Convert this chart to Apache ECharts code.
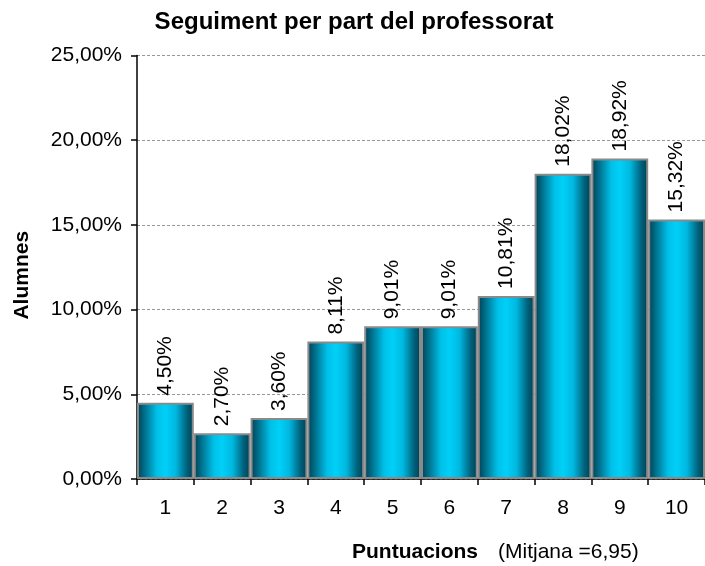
<!DOCTYPE html>
<html><head><meta charset="utf-8">
<script src="https://cdn.jsdelivr.net/npm/echarts@6/dist/echarts.min.js"></script>
<style>html,body{margin:0;padding:0;background:#fff}#c{width:705px;height:566px}</style>
</head><body><div id="c"></div>
<script>
var categories = ['1','2','3','4','5','6','7','8','9','10'];
var values = [4.50, 2.70, 3.60, 8.11, 9.01, 9.01, 10.81, 18.02, 18.92, 15.32];
var yTicks = [0, 5, 10, 15, 20, 25];
var titleText = 'Seguiment per part del professorat';
var xName = 'Puntuacions';
var xNote = '(Mitjana =6,95)';
var yName = 'Alumnes';

function pct(v){ return v.toFixed(2).replace('.', ',') + '%'; }
var FONT = '"Liberation Sans", Arial, sans-serif';
var chart = echarts.init(document.getElementById('c'));
chart.setOption({
  animation: false,
  title: [
    {text: titleText, left: 349, top: 5, textAlign: 'center',
     textStyle: {fontFamily: FONT, fontSize: 24, fontWeight: 'bold', color: '#000'}},
    {text: '{b|' + xName + '}    {n|' + xNote + '}', left: 347, top: 537,
     textStyle: {fontWeight: 'normal', rich: {
       b: {fontFamily: FONT, fontSize: 21, fontWeight: 'bold', color: '#000'},
       n: {fontFamily: FONT, fontSize: 21, fontWeight: 'normal', color: '#000'}}}}
  ],
  grid: {left: 137, right: 0, top: 55.5, bottom: 87, containLabel: false},
  xAxis: {
    type: 'category', data: categories, boundaryGap: true,
    axisLine: {lineStyle: {color: '#000', width: 1.5}},
    axisTick: {show: true, alignWithLabel: false, length: 6, lineStyle: {color: '#000', width: 1.5}},
    axisLabel: {fontFamily: FONT, fontSize: 21, color: '#000', margin: 19}
  },
  yAxis: {
    type: 'value', min: 0, max: 25, interval: 5,
    name: yName, nameLocation: 'middle', nameGap: 104, nameRotate: 90,
    nameTextStyle: {fontFamily: FONT, fontSize: 21, fontWeight: 'bold', color: '#000', padding: [0, 16, 0, 0]},
    axisLine: {show: true, lineStyle: {color: '#000', width: 1.5}},
    axisTick: {show: true, length: 6, lineStyle: {color: '#000', width: 1.5}},
    axisLabel: {fontFamily: FONT, fontSize: 21, color: '#000', margin: 15,
      formatter: function(v){ return pct(v); }},
    splitLine: {show: true, lineStyle: {color: '#999', type: [3, 2], width: 1}}
  },
  series: [{
    type: 'bar', data: values, barCategoryGap: '0%',
    itemStyle: {
      borderColor: '#8a8a8a', borderWidth: 2,
      color: new echarts.graphic.LinearGradient(0, 0, 1, 0, [
        {offset: 0, color: '#003e52'},
        {offset: 0.12, color: '#006a85'},
        {offset: 0.35, color: '#00c0e8'},
        {offset: 0.5, color: '#00d0f8'},
        {offset: 0.68, color: '#00b8e0'},
        {offset: 0.88, color: '#00607a'},
        {offset: 1, color: '#003e52'}
      ])
    },
    label: {
      show: true, position: 'top', rotate: 90, distance: 7,
      align: 'left', verticalAlign: 'middle',
      fontFamily: FONT, fontSize: 21, color: '#000',
      formatter: function(p){ return pct(p.value); }
    }
  }]
});
</script></body></html>
